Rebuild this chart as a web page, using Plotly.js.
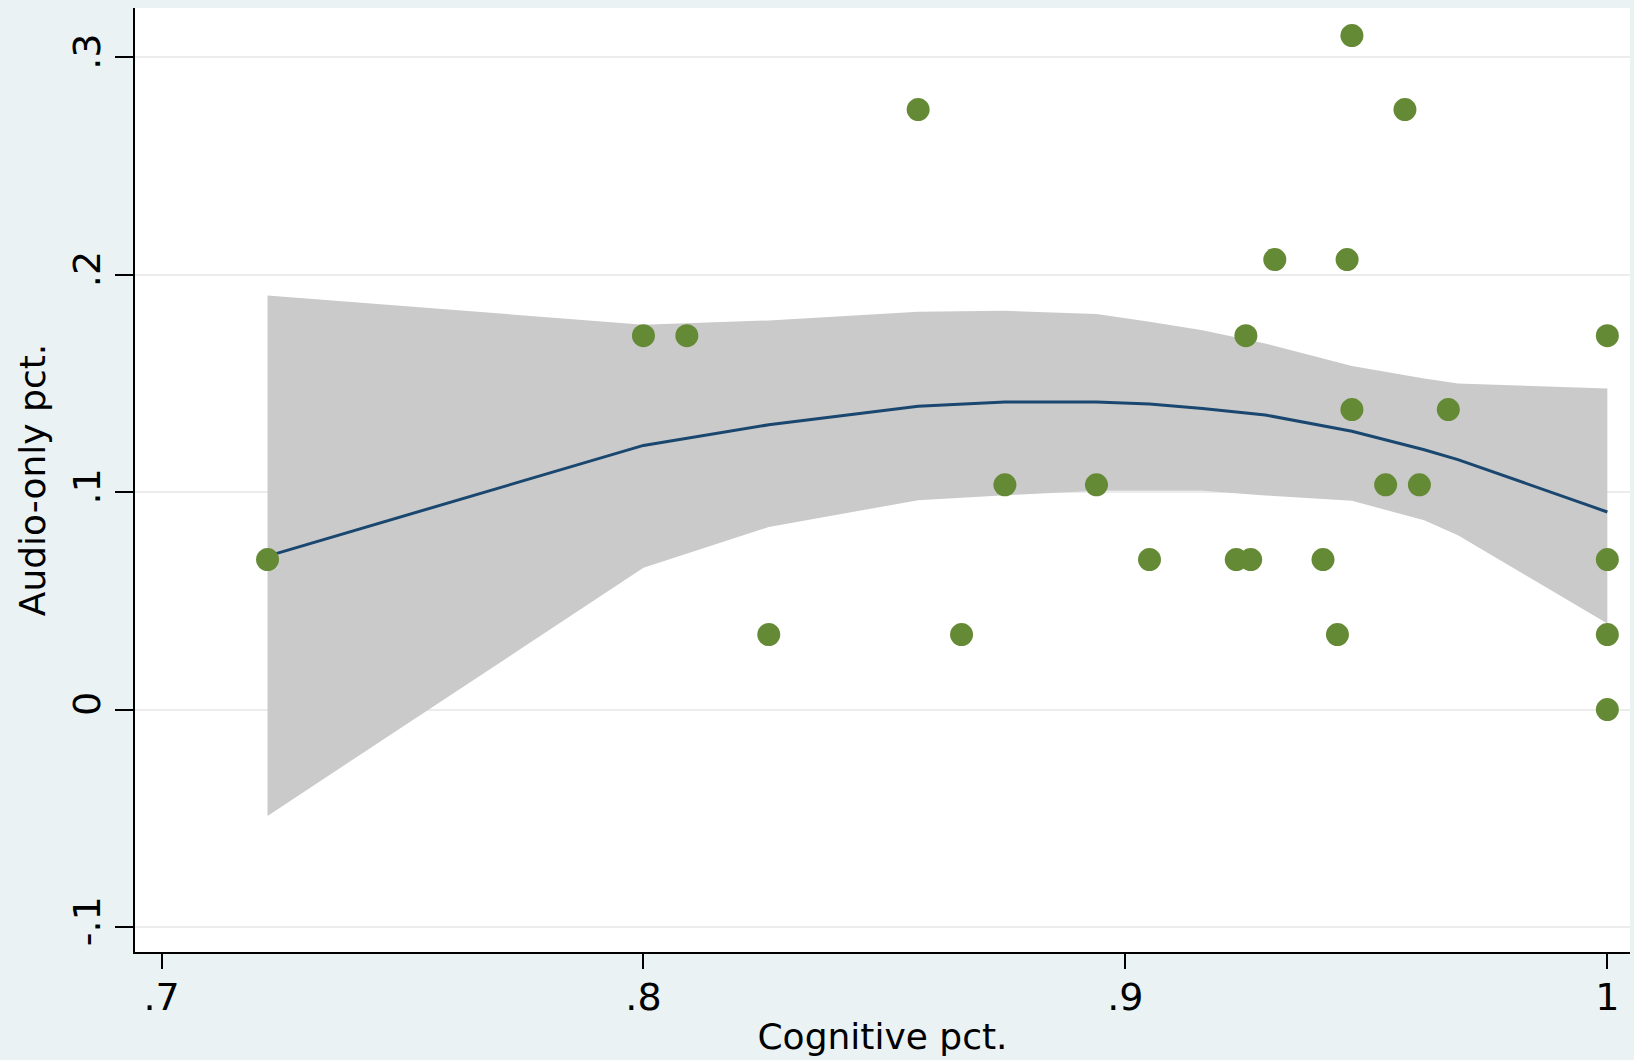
<!DOCTYPE html>
<html>
<head>
<meta charset="utf-8">
<script src="https://cdn.plot.ly/plotly-3.0.1.min.js"></script>
<style>
html,body{margin:0;padding:0;background:#eaf2f3;}
#chart{width:1634px;height:1060px;}
</style>
</head>
<body>
<div id="chart"></div>
<script>
// Scatter data: Cognitive pct. (x) vs Audio-only pct. (y)
var cognitive = [0.722, 0.800, 0.809, 0.826, 0.857, 0.866, 0.875, 0.894, 0.905, 0.923,
                 0.925, 0.926, 0.931, 0.941, 0.944, 0.946, 0.947, 0.947, 0.954, 0.958,
                 0.961, 0.967, 1.000, 1.000, 1.000, 1.000];
var audioOnly = [0.069, 0.172, 0.172, 0.0345, 0.276, 0.0345, 0.1034, 0.1034, 0.069, 0.069,
                 0.172, 0.069, 0.207, 0.069, 0.0345, 0.207, 0.310, 0.138, 0.1034, 0.276,
                 0.1034, 0.138, 0.172, 0.069, 0.0345, 0.0];

// Smoothed fit with confidence band
var fitX     = [0.722, 0.800, 0.826, 0.857, 0.875, 0.894, 0.905, 0.916, 0.929, 0.947, 0.962, 0.969, 1.000];
var fitY     = [0.0706, 0.1215, 0.131, 0.1395, 0.1415, 0.1415, 0.1405, 0.1385, 0.1355, 0.128, 0.1195, 0.115, 0.0909];
var ciUpper  = [0.1905, 0.177, 0.179, 0.183, 0.1834, 0.1819, 0.1784, 0.1745, 0.1684, 0.158, 0.1523, 0.150, 0.1477];
var ciLower  = [-0.0489, 0.0652, 0.084, 0.0963, 0.0986, 0.1006, 0.1007, 0.1006, 0.0985, 0.096, 0.0871, 0.0802, 0.0396];

var xTickVals = [0.7, 0.8, 0.9, 1.0];
var xTickText = [".7", ".8", ".9", "1"];
var yTickVals = [-0.1, 0, 0.1, 0.2, 0.3];
var yTickText = ["-.1", "0", ".1", ".2", ".3"];

var font = "DejaVu Sans, Liberation Sans, Arial, sans-serif";

var traces = [
  {x: fitX, y: ciUpper, type: "scatter", mode: "lines", line: {width: 0, color: "#cacaca"},
   showlegend: false, hoverinfo: "skip"},
  {x: fitX, y: ciLower, type: "scatter", mode: "lines", line: {width: 0, color: "#cacaca"},
   fill: "tonexty", fillcolor: "#cacaca", showlegend: false, hoverinfo: "skip"},
  {x: fitX, y: fitY, type: "scatter", mode: "lines", line: {width: 3, color: "#1a476f"},
   showlegend: false},
  {x: cognitive, y: audioOnly, type: "scatter", mode: "markers",
   marker: {size: 23, color: "#658a35"}, showlegend: false}
];

var layout = {
  width: 1634, height: 1060,
  paper_bgcolor: "#eaf2f3", plot_bgcolor: "#ffffff",
  margin: {l: 135, r: 4, t: 8, b: 108, pad: 0},
  font: {family: font, size: 36, color: "#000"},
  xaxis: {
    range: [0.6945, 1.0047], tickvals: xTickVals, ticktext: xTickText,
    showgrid: false, zeroline: false, showline: true, linecolor: "#000", linewidth: 2,
    ticks: "outside", ticklen: 15, tickwidth: 2, tickcolor: "#000", ticklabelstandoff: -5,
    tickfont: {family: font, size: 38, color: "#000"},
    title: {text: "Cognitive pct.", font: {family: font, size: 36, color: "#000"}, standoff: 6}
  },
  yaxis: {
    range: [-0.1115, 0.3227], tickvals: yTickVals, ticktext: yTickText,
    showgrid: true, gridcolor: "#ececec", gridwidth: 2, zeroline: false,
    showline: true, linecolor: "#000", linewidth: 2,
    ticks: "outside", ticklen: 18, tickwidth: 2, tickcolor: "#000", tickangle: -90,
    tickfont: {family: font, size: 38, color: "#000"},
    title: {text: "Audio-only pct.", font: {family: font, size: 36, color: "#000"}, standoff: 8}
  },
  showlegend: false
};

Plotly.newPlot("chart", traces, layout, {displayModeBar: false, staticPlot: true});
</script>
</body>
</html>
